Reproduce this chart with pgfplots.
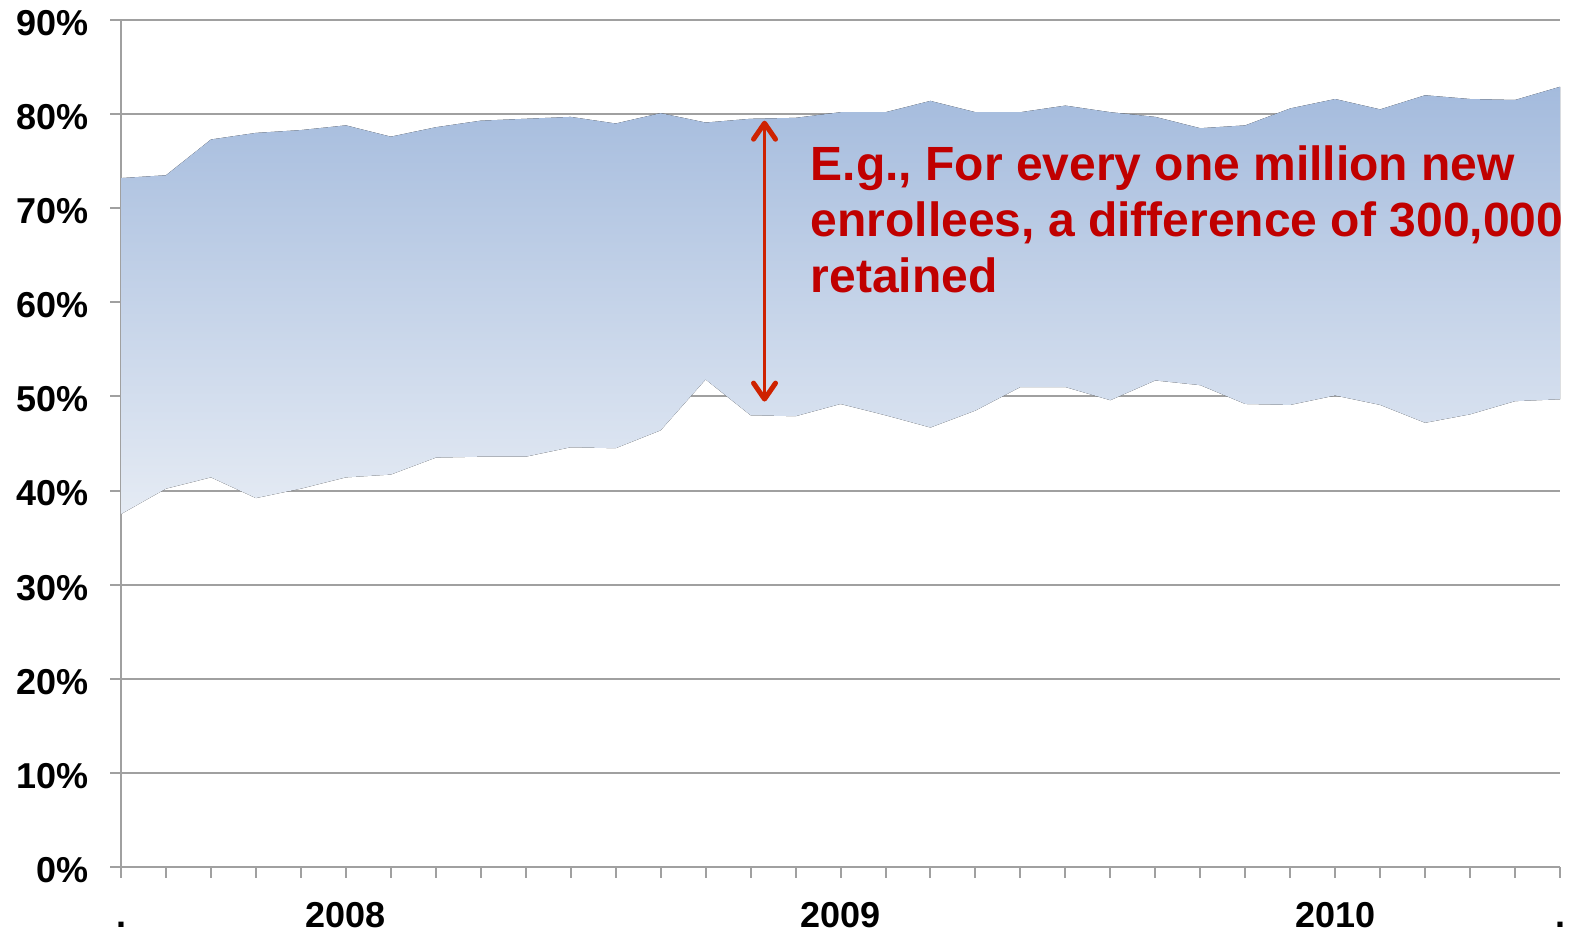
\documentclass[border=0pt]{standalone}
\usepackage{fontspec}
\setmainfont{Liberation Sans}
\usepackage{pgfplots}
\usepackage{pgfplotstable}
\pgfplotsset{compat=1.18}
\usepgfplotslibrary{fillbetween}
\usetikzlibrary{arrows.meta}

\definecolor{gridgray}{RGB}{160,160,160}
\definecolor{areatop}{RGB}{164,187,221}
\definecolor{areabot}{RGB}{229,235,244}
\definecolor{notered}{RGB}{192,0,0}
\definecolor{arrowred}{RGB}{206,34,0}

% Monthly retention: upper and lower bounds (percent)
\pgfplotstableread{
i upper lower
0  73.2 37.5
1  73.5 40.2
2  77.3 41.4
3  78.0 39.2
4  78.3 40.2
5  78.8 41.4
6  77.6 41.7
7  78.6 43.5
8  79.3 43.6
9  79.5 43.6
10 79.7 44.6
11 79.0 44.5
12 80.1 46.4
13 79.1 51.8
14 79.5 48.0
15 79.6 47.9
16 80.2 49.2
17 80.2 48.0
18 81.4 46.7
19 80.2 48.5
20 80.2 51.0
21 80.9 51.0
22 80.2 49.6
23 79.7 51.7
24 78.5 51.2
25 78.8 49.2
26 80.6 49.1
27 81.6 50.1
28 80.5 49.1
29 82.0 47.2
30 81.6 48.1
31 81.5 49.5
32 82.9 49.7
}\retention

\begin{document}
\begin{tikzpicture}
\begin{axis}[
  scale only axis,
  width=719.5pt, height=423.5pt,
  xmin=0, xmax=32, ymin=0, ymax=90,
  axis lines*=left,
  axis line style={gridgray, line width=1pt, -},
  xtick={0,...,32},
  xticklabels={.,{},{},{},{},2008,{},{},{},{},{},{},{},{},{},{},2009,{},{},{},{},{},{},{},{},{},{},2010,{},{},{},{},.},
  ytick={0,10,...,90},
  yticklabel={\pgfmathprintnumber{\tick}\%},
  ymajorgrids,
  grid style={gridgray, line width=1pt},
  tick style={gridgray, line width=1pt},
  tick align=outside,
  major tick length=5.5pt,
  ticklabel style={font=\bfseries\fontsize{18}{21}\selectfont, text=black},
  xticklabel style={yshift=-8pt, text height=13pt, text depth=0pt},
  yticklabel style={xshift=-7pt, yshift=-1.5pt},
  /pgf/number format/assume math mode=true,
  clip=false,
]
\addplot[draw=none, name path=up] table[x=i, y=upper] {\retention};
\addplot[draw=none, name path=lo] table[x=i, y=lower] {\retention};
\addplot[draw=none, top color=areatop, bottom color=areabot] fill between[of=up and lo];

\draw[arrowred, line width=1.5pt,
  {Straight Barb[length=8pt,width=11pt,line width=2.5pt,round]}-{Straight Barb[length=8pt,width=11pt,line width=2.5pt,round]}]
  (axis cs:14.31,49.45) -- (axis cs:14.31,79.3);

\node[anchor=north west, inner sep=0pt, align=left, text=notered,
  font=\bfseries\fontsize{24}{28}\selectfont]
  at (axis cs:15.33,76.73)
  {E.g., For every one million new\\enrollees, a difference of 300,000\\retained};

\coordinate (bbsw) at (rel axis cs:-0.0841,-0.0767);
\coordinate (bbne) at (rel axis cs:1.00695,1.0236);
\end{axis}
\pgfresetboundingbox
\path[use as bounding box] (bbsw) rectangle (bbne);
\end{tikzpicture}
\end{document}
